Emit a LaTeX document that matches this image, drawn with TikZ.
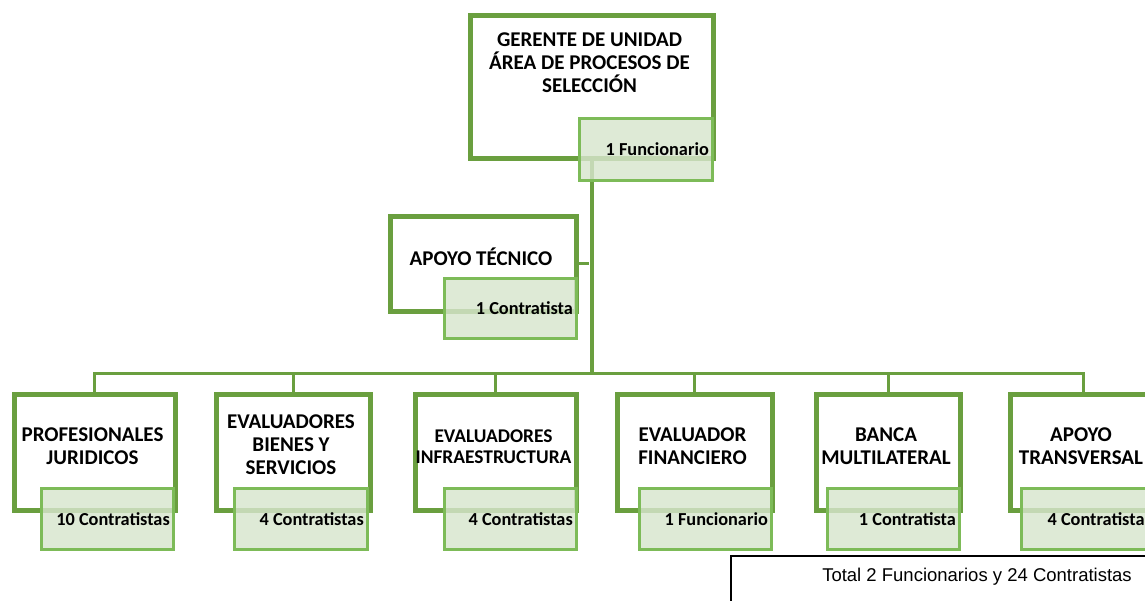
\documentclass[tikz,border=0pt]{standalone}
\usepackage{fontspec}
\setmainfont{Carlito}
\newfontfamily\arialfont{Liberation Sans}
\usetikzlibrary{backgrounds}
\definecolor{ogreen}{HTML}{6A9F3F}
\definecolor{igreen}{HTML}{7DBB58}
\definecolor{ifill}{HTML}{D7E5CD}
\begin{document}
\begin{tikzpicture}[x=1pt,y=-1pt,
  outerbox/.style={draw=ogreen, line width=4.5pt, inner sep=0pt, anchor=north west},
  innerbox/.style={draw=igreen, line width=2.5pt, fill=ifill, fill opacity=0.82, inner sep=0pt, anchor=north west},
  lbl/.style={anchor=east, inner sep=0pt, font=\bfseries\fontsize{18.3}{20}\selectfont},
  ttl/.style={align=center, inner sep=0pt, font=\bfseries\fontsize{21}{23}\selectfont},
  conn/.style={draw=ogreen, line width=3pt},
  trunk/.style={draw=ogreen, line width=3.5pt}]
\useasboundingbox (0,0) rectangle (1145,600);
\clip (0,0) rectangle (1145,600);

% outer boxes
\node[outerbox, minimum width=243, minimum height=143] (g) at (468,13) {};
\node[outerbox, minimum width=186, minimum height=95] (a) at (388,214) {};
\node[outerbox, minimum width=161, minimum height=116] (b1) at (12,392) {};
\node[outerbox, minimum width=154, minimum height=116] (b2) at (214,392) {};
\node[outerbox, minimum width=161, minimum height=116] (b3) at (413,392) {};
\node[outerbox, minimum width=155, minimum height=116] (b4) at (615,392) {};
\node[outerbox, minimum width=144, minimum height=116] (b5) at (814,392) {};
\node[outerbox, minimum width=146, minimum height=116] (b6) at (1008,392) {};

% titles
\node[ttl] (gt) at (589.5,63) {GERENTE DE UNIDAD\\ÁREA DE PROCESOS DE\\SELECCIÓN};
\node[ttl] (at) at (481,257) {APOYO TÉCNICO};
\node[ttl] (t1) at (92.5,446) {PROFESIONALES\\JURIDICOS};
\node[ttl] (t2) at (291,445) {EVALUADORES\\BIENES Y\\SERVICIOS};
\node[ttl, font=\bfseries\fontsize{19.4}{21}\selectfont] (t3) at (493.5,446.5) {EVALUADORES\\INFRAESTRUCTURA};
\node[ttl] (t4) at (692.5,446) {EVALUADOR\\FINANCIERO};
\node[ttl] (t5) at (886,446) {BANCA\\MULTILATERAL};
\node[ttl] (t6) at (1081,446) {APOYO\\TRANSVERSAL};

% inner boxes
\node[innerbox, minimum width=133, minimum height=62] (gi) at (578,117) {};
\node[innerbox, minimum width=132, minimum height=60] (ai) at (443,277) {};
\node[innerbox, minimum width=132, minimum height=61] (i1) at (40,487) {};
\node[innerbox, minimum width=133, minimum height=61] (i2) at (233,487) {};
\node[innerbox, minimum width=132, minimum height=61] (i3) at (443,487) {};
\node[innerbox, minimum width=132, minimum height=61] (i4) at (638,487) {};
\node[innerbox, minimum width=132, minimum height=61] (i5) at (826,487) {};
\node[innerbox, minimum width=134, minimum height=61] (i6) at (1020,487) {};

\node[lbl] (gl) at ([xshift=-4.5pt]gi.east) {1 Funcionario};
\node[lbl] (al) at ([xshift=-4.5pt]ai.east) {1 Contratista};
\node[lbl] (l1) at ([xshift=-4.5pt]i1.east) {10 Contratistas};
\node[lbl] (l2) at ([xshift=-4.5pt]i2.east) {4 Contratistas};
\node[lbl] (l3) at ([xshift=-4.5pt]i3.east) {4 Contratistas};
\node[lbl] (l4) at ([xshift=-4.5pt]i4.east) {1 Funcionario};
\node[lbl] (l5) at ([xshift=-4.5pt]i5.east) {1 Contratista};
\node[lbl] (l6) at ([xshift=-4.5pt]i6.east) {4 Contratistas};

% total
\node[draw=black, line width=1.5pt, anchor=north west, minimum width=440, minimum height=60, inner sep=0pt] (totbox) at (730,555) {};
\node[inner sep=0pt, font=\arialfont\fontsize{18.5}{20}\selectfont] (tot) at (977,577) {Total 2 Funcionarios y 24 Contratistas};

% connectors
\coordinate (bar) at (589,373);
\begin{scope}[on background layer]
\draw[trunk] (g.south) -- (g.south |- bar);
\draw[conn] (a.east) -- (a.east -| bar);
\draw[conn] (b1.north) |- (bar) -| (b6.north);
\foreach \b in {b2,b3,b4,b5} {\draw[conn] (\b.north) -- (\b.north |- bar);}
\end{scope}
\end{tikzpicture}
\end{document}
